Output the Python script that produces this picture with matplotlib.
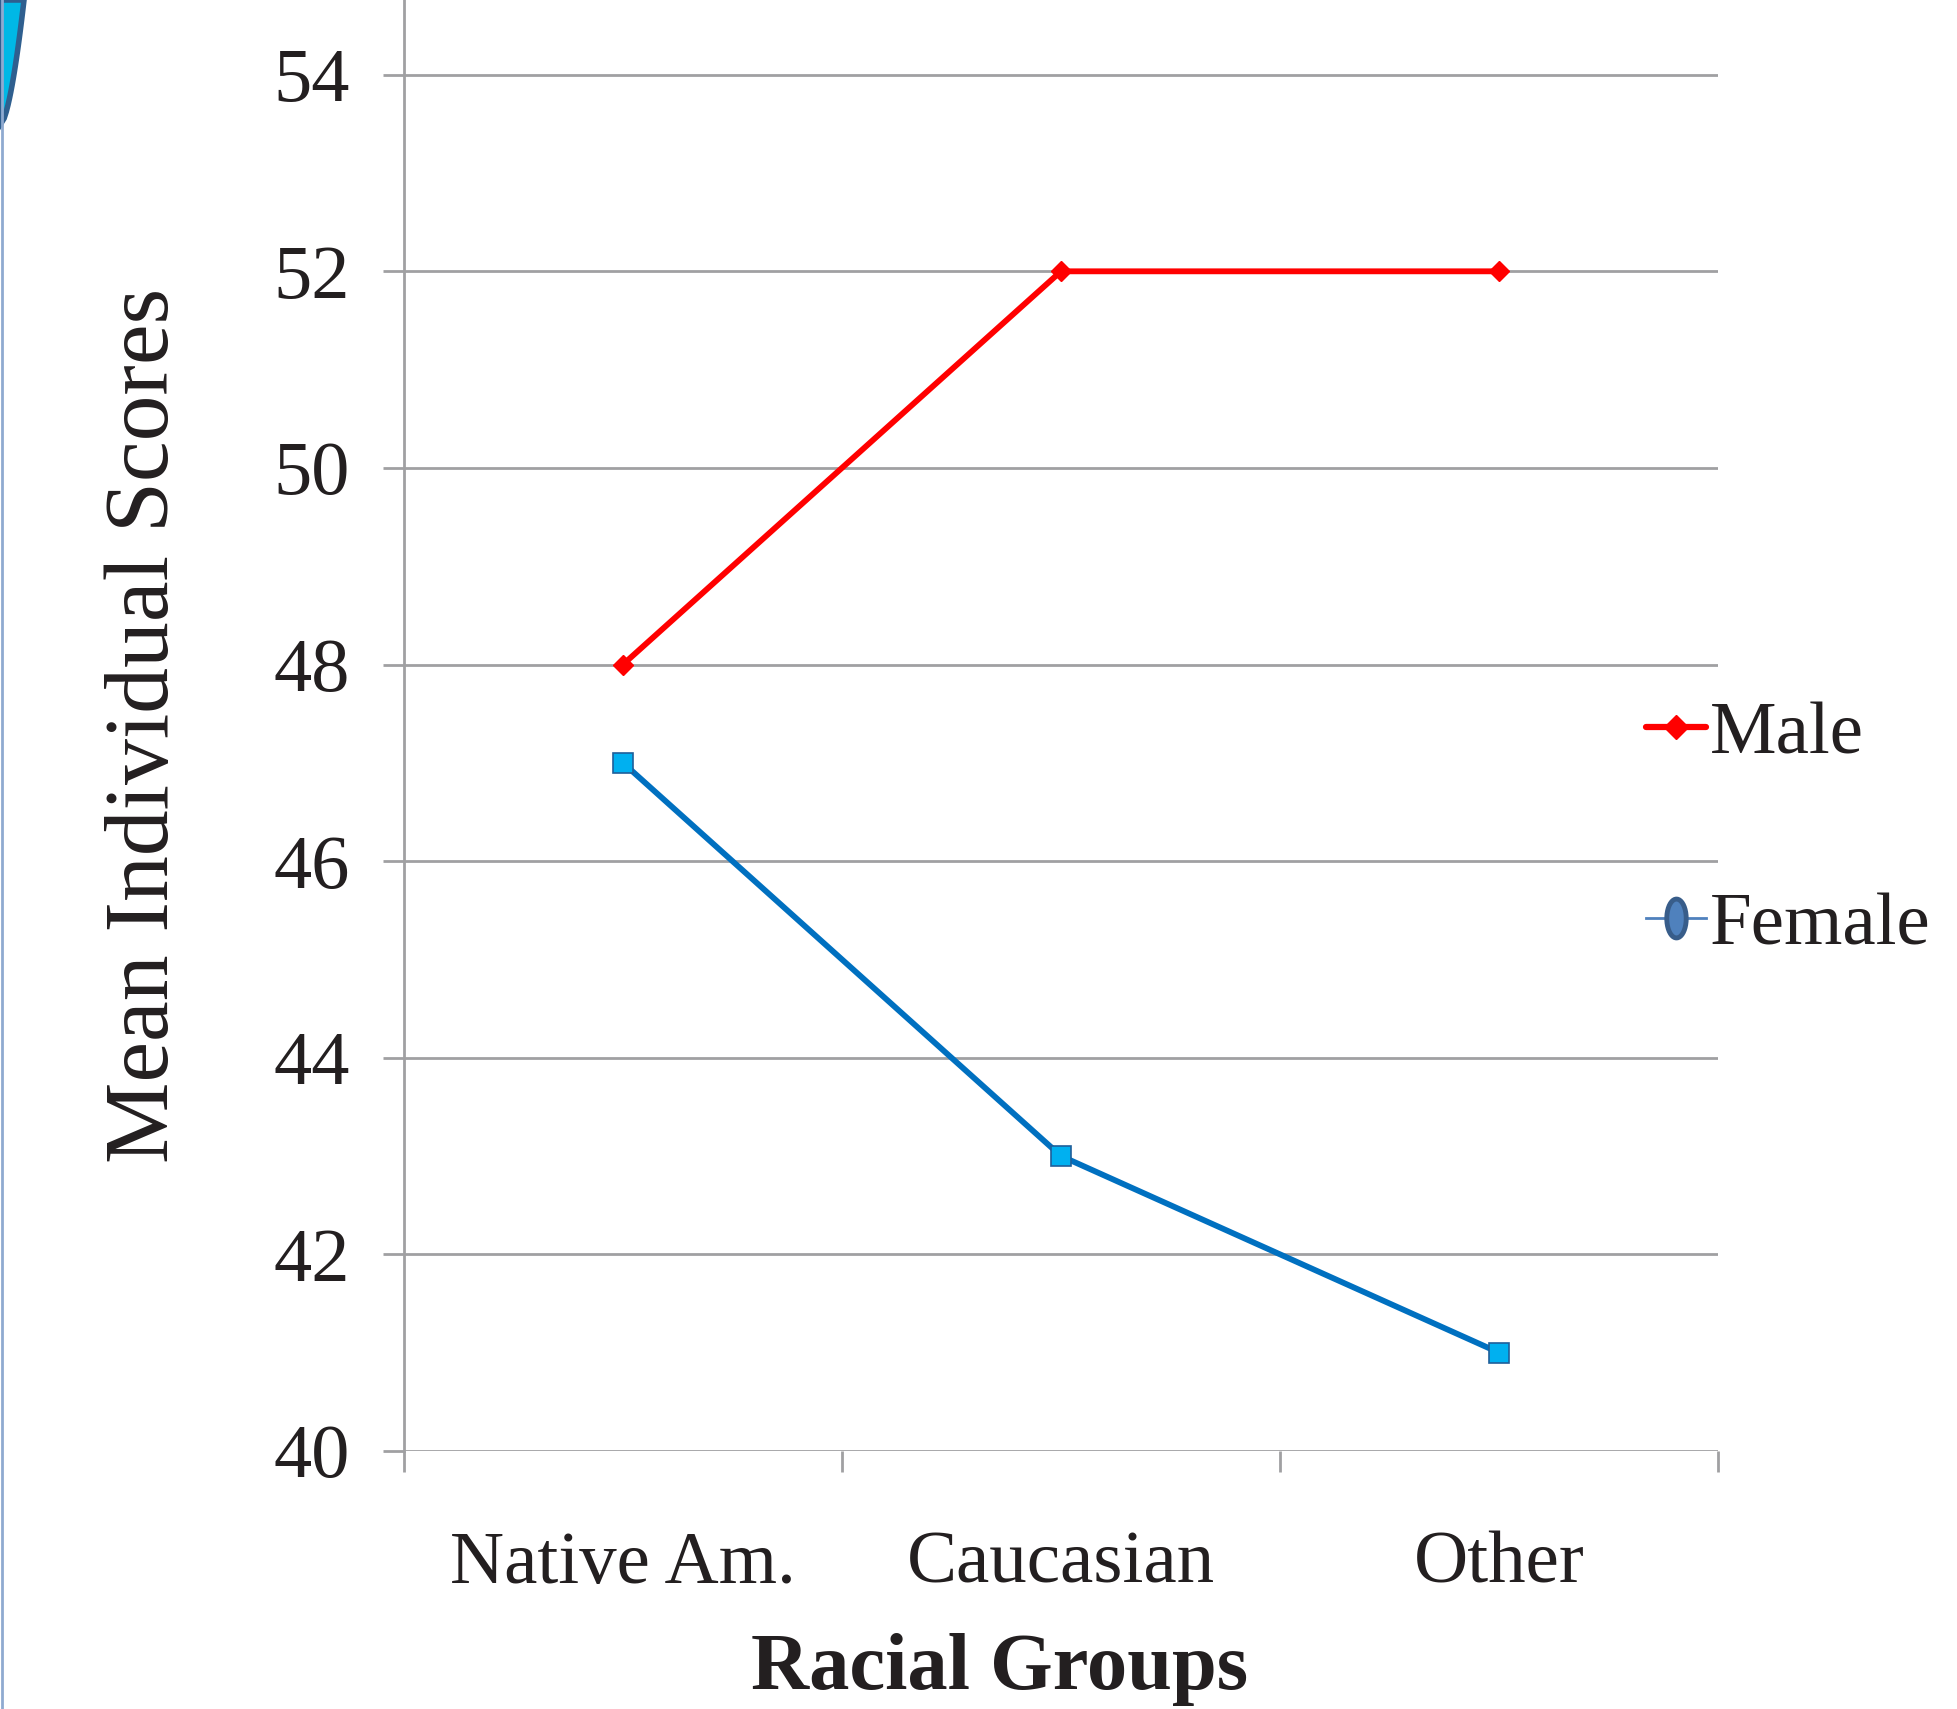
import numpy as np
import matplotlib.pyplot as plt
from matplotlib.lines import Line2D
from matplotlib.patches import Polygon

# data
groups = ['Native Am.', 'Caucasian', 'Other']
male = [48, 52, 52]
female = [47, 43, 41]
y_ticks = [40, 42, 44, 46, 48, 50, 52, 54]

plt.rcParams['font.family'] = ['Liberation Serif', 'DejaVu Serif']
txt = '#231F20'
grid_c = '#A0A0A2'

fig = plt.figure(figsize=(19.57, 17.09), dpi=100)
ax = fig.add_axes([0.2064, 0.151, 0.6715, 0.849])

x = np.arange(len(groups))
ax.plot(x, male, color='#FF0000', lw=4.2, marker='D', markersize=10,
        markerfacecolor='#FF0000', markeredgecolor='#FF0000', zorder=3)
ax.plot(x, female, color='#0070C0', lw=4.2, marker='s', markersize=14,
        markerfacecolor='#00B0F0', markeredgecolor='#1F5F9A', markeredgewidth=1.2, zorder=3)

ax.set_xlim(-0.5, 2.5)
ax.set_ylim(40, 54.76)
ax.set_yticks(y_ticks)
ax.set_xticks(x)
ax.set_xticklabels(groups)
# category separators as minor ticks
ax.set_xticks([-0.5, 0.5, 1.5, 2.5], minor=True)
ax.tick_params(axis='x', which='major', length=0, pad=58, labelsize=54, labelcolor=txt)
ax.tick_params(axis='x', which='minor', length=15, width=2, color=grid_c, direction='out')
ax.tick_params(axis='y', length=15, width=2, color=grid_c, pad=24, labelsize=55, labelcolor=txt)

ax.yaxis.grid(True, color=grid_c, lw=2)
ax.set_axisbelow(True)
for s in ['top', 'right', 'bottom']:
    ax.spines[s].set_visible(False)
ax.spines['left'].set_color(grid_c)
ax.spines['left'].set_linewidth(2)

ax.set_ylabel('Mean Individual Scores', fontsize=66, color=txt, labelpad=62)
fig.text(1000 / 1957, 1 - 1669 / 1709, 'Racial Groups', fontsize=58, fontweight='bold',
         color=txt, ha='center', va='center')

# legend: the female entry uses an ellipse marker
t = np.linspace(0, 2 * np.pi, 40)
ellipse = np.column_stack([0.5 * np.cos(t), np.sin(t)])
handles = [
    Line2D([], [], color='#FF0000', lw=4.5, marker='D', markersize=12,
           markerfacecolor='#FF0000', markeredgecolor='#FF0000', solid_capstyle='round'),
    Line2D([], [], color='#4F81BD', lw=2, marker=ellipse, markersize=28,
           markerfacecolor='#4F81BD', markeredgecolor='#385D8A', markeredgewidth=3.5),
]
fig.legend(handles, ['Male', 'Female'], loc='center left', bbox_to_anchor=(0.841, 0.514),
           frameon=False, fontsize=54, labelspacing=1.63, handlelength=0.8,
           handletextpad=0.05, borderpad=0, borderaxespad=0, labelcolor=txt)

# decorative arc in the top-left corner
ys = np.linspace(0, 125, 20)
xs = 24 * (1 - ys / 125) ** 0.6
pts = [(0, 1)] + [(xv / 1957, 1 - yv / 1709) for xv, yv in zip(xs, ys)] + [(0, 1 - 125 / 1709)]
deco = Polygon(pts, closed=True, transform=fig.transFigure, facecolor='#00B8E6',
               edgecolor='#2F5F8F', lw=4, clip_on=False)
fig.patches.append(deco)
fig.add_artist(Line2D([0.0008, 0.0008], [0, 1], transform=fig.transFigure,
                      color='#8FAAD0', lw=2))

fig.savefig('out.png', dpi=100)
